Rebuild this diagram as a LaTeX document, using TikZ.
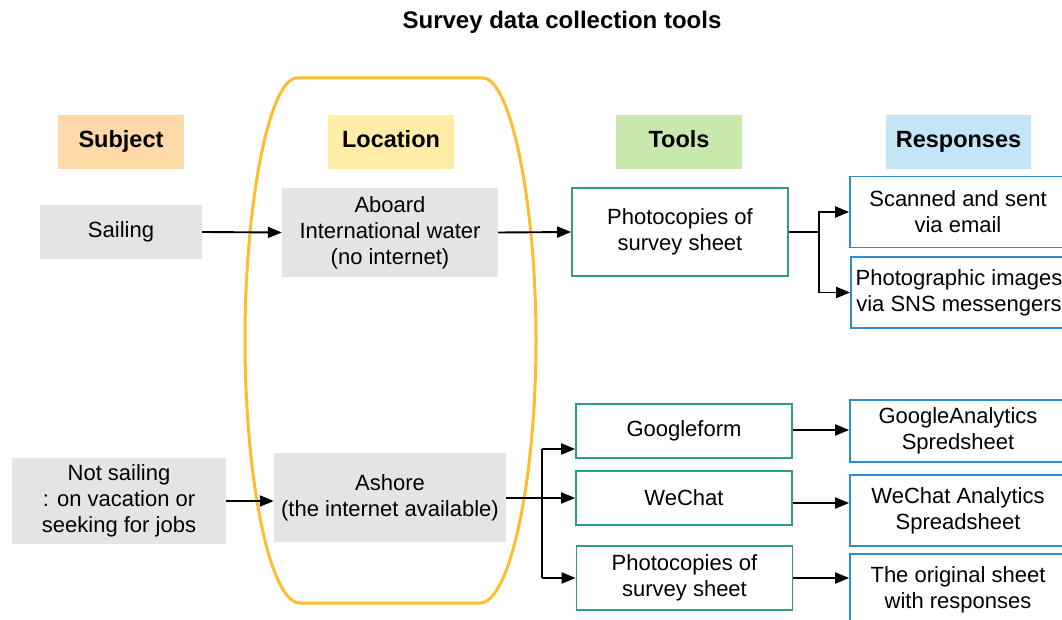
\documentclass[tikz,border=0pt]{standalone}
\usepackage{fontspec}
\setmainfont{Liberation Sans}
\usetikzlibrary{arrows.meta}
\definecolor{subjfill}{HTML}{FFDAA8}
\definecolor{locfill}{HTML}{FFECA6}
\definecolor{toolfill}{HTML}{C9E8AD}
\definecolor{respfill}{HTML}{C4E4F7}
\definecolor{grayfill}{HTML}{E4E4E4}
\definecolor{tealline}{HTML}{2A9D8C}
\definecolor{blueline}{HTML}{2C8DD6}
\definecolor{ovalline}{HTML}{FCBE2F}
\begin{document}
\begin{tikzpicture}[x=1pt,y=-1pt,
  txt/.style={font=\fontsize{22}{26}\selectfont, align=center, inner sep=0pt},
  hdr/.style={font=\bfseries\fontsize{23.5}{27}\selectfont, inner sep=0pt, minimum height=54pt, text height=17pt, text depth=5pt},
  graybox/.style={txt, fill=grayfill},
  toolbox/.style={txt, draw=tealline, line width=1.7pt, fill=white, minimum width=216pt},
  respbox/.style={txt, draw=blueline, line width=1.7pt, fill=white, minimum width=216pt},
  arr/.style={line width=1.9pt, -{Triangle[length=14pt,width=11pt]}},
  conn/.style={line width=1.9pt}
]
\useasboundingbox (0,0) rectangle (1062,620);
\fill[white] (0,0) rectangle (1062,620);

% oval
\draw[ovalline, line width=3pt] (297,78) -- (483,78)
  .. controls (510,78) and (536,200) .. (536,340)
  .. controls (536,480) and (510,603) .. (480,603) -- (300,603)
  .. controls (270,603) and (245,480) .. (245,340)
  .. controls (245,200) and (270,78) .. (297,78) -- cycle;

% title
\node[font=\bfseries\fontsize{24}{28}\selectfont, inner sep=0pt] (title) at (562,22) {Survey data collection tools};

% headers
\node[hdr, fill=subjfill, minimum width=126pt] (hsub) at (121,142) {Subject};
\node[hdr, fill=locfill, minimum width=126pt] (hloc) at (391,142) {Location};
\node[hdr, fill=toolfill, minimum width=126pt] (htool) at (679,142) {Tools};
\node[hdr, fill=respfill, minimum width=145pt] (hresp) at (958.5,142) {Responses};

% top row
\node[graybox, minimum width=162pt, minimum height=54pt] (sail) at (121,232) {Sailing};
\node[graybox, minimum width=216pt, minimum height=89pt] (aboard) at (390,232.5) {Aboard\\International water\\(no internet)};
\node[toolbox, minimum height=88pt] (p1) at (680,232) {Photocopies of\\survey sheet};
\node[respbox, minimum height=71pt] (scan) at (958,212) {Scanned and sent\\via email};
\node[respbox, minimum height=71pt] (photo) at (959,292.5) {Photographic images\\via SNS messengers};

% bottom rows
\node[graybox, minimum width=214pt, minimum height=86pt] (ns) at (119,501) {Not sailing\\: on vacation or\\seeking for jobs};
\node[graybox, minimum width=232pt, minimum height=89pt] (ash) at (390,497.5) {Ashore\\(the internet available)};
\node[toolbox, minimum height=54pt] (gf) at (684,431) {Googleform};
\node[toolbox, minimum height=54pt] (wc) at (684,498) {WeChat};
\node[toolbox, minimum height=64pt] (p2) at (684.5,578) {Photocopies of\\survey sheet};
\node[respbox, minimum height=62pt] (ga) at (958,431) {GoogleAnalytics\\Spredsheet};
\node[respbox, minimum height=71pt] (wa) at (958,510.5) {WeChat Analytics\\Spreadsheet};
\node[respbox, minimum height=72pt] (orig) at (958,590) {The original sheet\\with responses};

% connectors top
\draw[arr] (sail.east) -- (aboard.west);
\draw[arr] (aboard.east) -- (p1.west);
\coordinate (tb) at (819,232);
\draw[conn] (p1.east) -- (tb);
\draw[arr] (tb) |- (scan.west);
\draw[arr] (tb) |- (photo.west);

% connectors bottom
\draw[arr] (ns.east) -- (ns.east -| ash.west);
\coordinate (bm) at (542,498);
\coordinate (bt) at (542,449);
\coordinate (bb) at (542,578);
\draw[conn] (ash.east |- bm) -- (bm);
\draw[conn] (bt) -- (bb);
\draw[arr] (bt) -- (bt -| gf.west);
\draw[arr] (bm) -- (bm -| wc.west);
\draw[arr] (bb) -- (bb -| p2.west);
\draw[arr] ([yshift=1pt]gf.east) -- ([yshift=1pt]gf.east -| ga.west);
\draw[arr] ([yshift=-5pt]wc.east) -- ([yshift=-5pt]wc.east -| wa.west);
\draw[arr] (p2.east) -- (p2.east -| orig.west);
\end{tikzpicture}
\end{document}
